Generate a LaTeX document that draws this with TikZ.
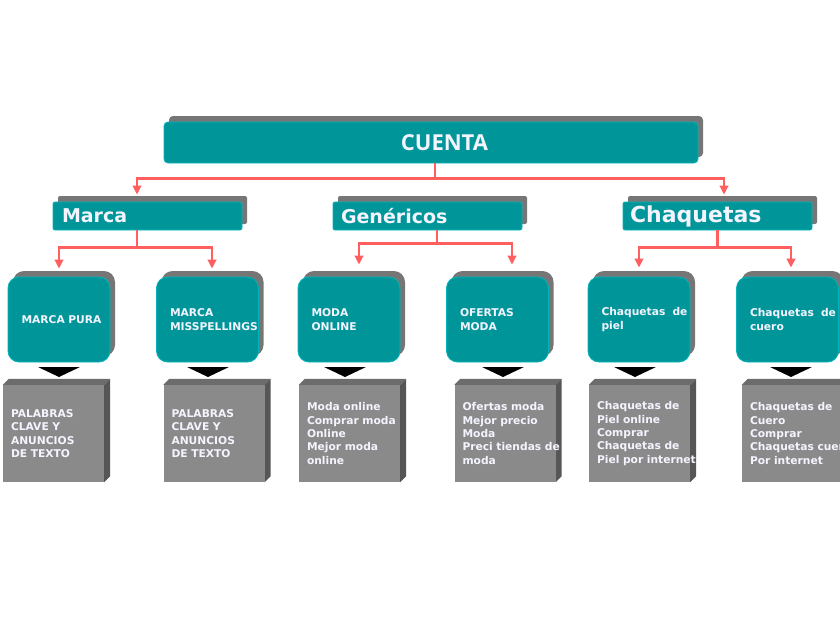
\documentclass[tikz,border=0pt]{standalone}
\usepackage{fontspec}
\setmainfont{DejaVu Sans}
\newfontfamily\cuentafont{Open Sans}
\usetikzlibrary{arrows.meta,shadows,calc,backgrounds}
\definecolor{tealbox}{RGB}{0,150,153}
\definecolor{tealhl}{RGB}{0,180,188}
\definecolor{shadowgray}{RGB}{118,118,118}
\definecolor{conred}{RGB}{255,95,95}
\definecolor{gfront}{RGB}{138,138,138}
\definecolor{gtop}{RGB}{108,108,108}
\definecolor{gside}{RGB}{86,86,86}
\definecolor{boxtext}{RGB}{244,244,255}
\hyphenpenalty=10000
\exhyphenpenalty=10000
\tikzset{
  teal shadow/.style={general shadow={fill=shadowgray, shadow xshift=5pt, shadow yshift=6pt}},
  header/.style={rectangle, rounded corners=2pt, fill=tealbox, draw=tealhl, line width=0.8pt,
    text=boxtext, teal shadow, minimum height=28pt, inner ysep=0pt, align=left},
  subbox/.style={rectangle, rounded corners=11pt, fill=tealbox, draw=tealhl, line width=0.8pt,
    text=boxtext, teal shadow, minimum width=102pt, minimum height=85pt, text width=75pt,
    inner xsep=13.5pt, inner ysep=0pt, align=left, font=\fontsize{10.7}{13.4}\selectfont\bfseries},
  graybox/.style={rectangle, fill=gfront, minimum width=101pt, minimum height=97pt, text width=85pt,
    inner xsep=8pt, inner ysep=0pt, align=left, text=boxtext, font=\fontsize{10.7}{13.4}\selectfont\bfseries},
  conn/.style={draw=conred, line width=2.2pt},
  arr/.style={-{Triangle[length=9pt,width=8.5pt]}},
  pointer/.style={fill=black}
}
\begin{document}
\begin{tikzpicture}[x=1pt,y=-1pt]
\useasboundingbox (0,0) rectangle (840,629);

% top node
\node[header, rounded corners=4pt, minimum width=534pt, minimum height=41pt, align=center,
  font=\cuentafont\fontsize{22}{24}\selectfont\bfseries] (cuenta) at (431,142.5) {\hspace*{27pt}CUENTA};

% level 2
\node[header, text width=171pt, inner xsep=9pt, font=\fontsize{19}{21}\selectfont\bfseries] (marca) at (147.5,216) {Marca};
\node[header, text width=173pt, inner xsep=8pt, font=\fontsize{19}{21}\selectfont\bfseries] (gen) at (427.5,216) {Genéricos};
\node[header, text width=175pt, inner xsep=7pt, font=\fontsize{22}{24}\selectfont\bfseries] (chaq) at (717.5,216) {Chaquetas};

% level 3
\node[subbox] (l1) at (59,319.5) {\mbox{MARCA PURA}};
\node[subbox] (l2) at (207.5,319.5) {\mbox{MARCA}\\\mbox{MISSPELLINGS}};
\node[subbox] (l3) at (349,319.5) {\mbox{MODA}\\\mbox{ONLINE}};
\node[subbox] (l4) at (497.5,319.5) {\mbox{OFERTAS}\\\mbox{MODA}};
\node[subbox] (l5) at (639,319.5) {\mbox{Chaquetas \ de}\\\mbox{piel}};
\node[subbox] (l6) at (787.5,319.5) {\mbox{Chaquetas \ de}\\\mbox{cuero}};

% level 4
\node[graybox] (g1) at (53.5,433.5) {\mbox{PALABRAS}\\\mbox{CLAVE Y}\\\mbox{ANUNCIOS}\\\mbox{DE TEXTO}};
\node[graybox] (g2) at (214,433.5) {\mbox{PALABRAS}\\\mbox{CLAVE Y}\\\mbox{ANUNCIOS}\\\mbox{DE TEXTO}};
\node[graybox] (g3) at (349.5,433.5) {\mbox{Moda online}\\\mbox{Comprar moda}\\\mbox{Online}\\\mbox{Mejor moda}\\\mbox{online}};
\node[graybox] (g4) at (505,433.5) {\mbox{Ofertas moda}\\\mbox{Mejor precio}\\\mbox{Moda}\\\mbox{Preci tiendas de}\\\mbox{moda}};
\node[graybox] (g5) at (639.5,433.5) {\mbox{Chaquetas de}\\\mbox{Piel online}\\\mbox{Comprar}\\\mbox{Chaquetas de}\\\mbox{Piel por internet}};
\node[graybox] (g6) at (792.5,433.5) {\mbox{Chaquetas de}\\\mbox{Cuero}\\\mbox{Comprar}\\\mbox{Chaquetas cuero}\\\mbox{Por internet}};

\begin{pgfonlayer}{background}
\foreach \g in {g1,g2,g3,g4,g5,g6}{
  \fill[gtop] (\g.north west) -- ++(6pt,6pt) -- ([shift={(6pt,6pt)}]\g.north east) -- (\g.north east) -- cycle;
  \fill[gside] (\g.north east) -- ++(6pt,6pt) -- ([shift={(6pt,6pt)}]\g.south east) -- (\g.south east) -- cycle;
}
\end{pgfonlayer}

% black pointers between level 3 and level 4
\foreach \x in {59,208,345,503,635,791}{
  \fill[pointer] (\x-21,367) -- (\x+21,367) -- (\x,377) -- cycle;
}

% connectors
\draw[conn] ([xshift=4pt]cuenta.south) -- ++(0,15) coordinate (cj);
\draw[conn,arr] (cj) -| ([xshift=-10.5pt,yshift=7pt]marca.north);
\draw[conn,arr] (cj) -| ([xshift=6.5pt,yshift=7pt]chaq.north);

\draw[conn] ([xshift=-10.5pt]marca.south) -- ++(0,17) coordinate (mj);
\draw[conn,arr] (mj) -| ([yshift=8pt]l1.north);
\draw[conn,arr] (mj) -| ([xshift=4.5pt,yshift=8pt]l2.north);

\draw[conn] ([xshift=9.5pt]gen.south) -- ++(0,13) coordinate (gj);
\draw[conn,arr] (gj) -| ([xshift=10pt,yshift=12pt]l3.north);
\draw[conn,arr] (gj) -| ([xshift=14.5pt,yshift=12pt]l4.north);

\draw[conn] (chaq.south) -- ++(0,17) coordinate (chj);
\draw[conn,arr] (chj) -| ([yshift=9pt]l5.north);
\draw[conn,arr] (chj) -| ([xshift=3.5pt,yshift=9pt]l6.north);
\end{tikzpicture}
\end{document}
